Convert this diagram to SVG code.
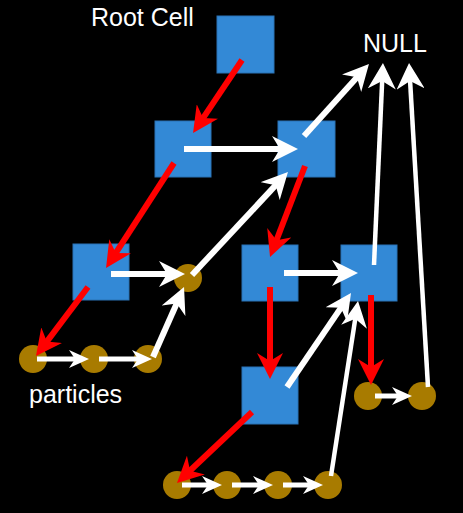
<svg xmlns="http://www.w3.org/2000/svg" width="463" height="513" viewBox="0 0 463 513">
<style>
.box{fill:#3389D6;stroke:#2b73b5;stroke-width:1}
.p{fill:#A87B00}
.t{fill:#fff;font-family:"Liberation Sans",Arial,sans-serif;font-size:25px}
.r{stroke:#f00;stroke-width:6;fill:none}
.w{stroke:#fff;stroke-width:6;fill:none}
.wn{stroke:#fff;stroke-width:4.5;fill:none}
.ws{stroke:#fff;stroke-width:5;fill:none}
</style>
<defs>
<marker id="hr" viewBox="0 0 26 26" refX="18" refY="13" markerWidth="26" markerHeight="26" markerUnits="userSpaceOnUse" orient="auto"><path d="M26,13 L0,0 L8,13 L0,26 Z" fill="#f00"/></marker>
<marker id="hw" viewBox="0 0 26 26" refX="18" refY="13" markerWidth="26" markerHeight="26" markerUnits="userSpaceOnUse" orient="auto"><path d="M26,13 L0,0 L8,13 L0,26 Z" fill="#fff"/></marker>
<marker id="hn" viewBox="0 0 26 28" refX="18" refY="14" markerWidth="26" markerHeight="28" markerUnits="userSpaceOnUse" orient="auto"><path d="M26,14 L0,0 L8,14 L0,28 Z" fill="#fff"/></marker>
<marker id="hs" viewBox="0 0 20 18" refX="13" refY="9" markerWidth="20" markerHeight="18" markerUnits="userSpaceOnUse" orient="auto"><path d="M20,9 L0,0 L6,9 L0,18 Z" fill="#fff"/></marker>
</defs>
<rect width="463" height="513" fill="#000"/>
<g id="labels">
<text class="t" x="91" y="26">Root Cell</text>
<text class="t" x="363" y="52">NULL</text>
<text class="t" x="29" y="403">particles</text>
</g>
<g id="root"><rect class="box" x="217" y="16" width="57" height="57"/></g>
<g id="cell1"><rect class="box" x="155" y="121" width="56" height="56"/></g>
<g id="cell2"><rect class="box" x="278" y="121" width="57" height="56"/></g>
<g id="cell3"><rect class="box" x="73" y="244" width="56" height="56"/></g>
<g id="cell4"><rect class="box" x="242" y="245" width="56" height="56"/></g>
<g id="cell5"><rect class="box" x="341" y="245" width="56" height="56"/></g>
<g id="cell6"><rect class="box" x="242" y="367" width="56" height="57"/></g>
<g id="pmid"><circle class="p" cx="188" cy="278" r="14"/></g>
<g id="p1"><circle class="p" cx="33" cy="359" r="14"/></g>
<g id="p2"><circle class="p" cx="94" cy="359" r="14"/></g>
<g id="p3"><circle class="p" cx="148" cy="359" r="14"/></g>
<g id="p4"><circle class="p" cx="368" cy="396" r="14"/></g>
<g id="p5"><circle class="p" cx="422" cy="396" r="14"/></g>
<g id="p6"><circle class="p" cx="177" cy="485" r="14"/></g>
<g id="p7"><circle class="p" cx="227" cy="485" r="14"/></g>
<g id="p8"><circle class="p" cx="278" cy="485" r="14"/></g>
<g id="p9"><circle class="p" cx="328" cy="485" r="14"/></g>
<g id="connectors">
<line class="r" x1="242" y1="60" x2="197.5" y2="126.4" marker-end="url(#hr)"/>
<line class="r" x1="174" y1="163" x2="110.4" y2="261.3" marker-end="url(#hr)"/>
<line class="r" x1="88" y1="287" x2="40.8" y2="349.6" marker-end="url(#hr)"/>
<line class="r" x1="305" y1="166" x2="272.9" y2="249.5" marker-end="url(#hr)"/>
<line class="r" x1="270" y1="287" x2="270" y2="371" marker-end="url(#hr)"/>
<line class="r" x1="371" y1="295" x2="371" y2="377" marker-end="url(#hr)"/>
<line class="r" x1="252" y1="412" x2="182.8" y2="477.5" marker-end="url(#hr)"/>
<line class="w" x1="184" y1="149" x2="290" y2="149" marker-end="url(#hw)"/>
<line class="w" x1="304" y1="136" x2="363.6" y2="69.9" marker-end="url(#hw)"/>
<line class="w" x1="111" y1="274" x2="177" y2="274" marker-end="url(#hw)"/>
<line class="w" x1="192" y1="275" x2="282.5" y2="177.9" marker-end="url(#hw)"/>
<line class="w" x1="153" y1="357" x2="180.8" y2="294.3" marker-end="url(#hw)"/>
<line class="w" x1="284" y1="273" x2="350" y2="273" marker-end="url(#hw)"/>
<line class="w" x1="287" y1="387" x2="346.5" y2="299.6" marker-end="url(#hw)"/>
<line class="wn" x1="331" y1="476" x2="356.8" y2="308.9" marker-end="url(#hw)"/>
<line class="wn" x1="374" y1="265" x2="382.6" y2="71" marker-end="url(#hn)"/>
<line class="wn" x1="428" y1="387" x2="409.5" y2="71" marker-end="url(#hn)"/>
<line class="ws" x1="37" y1="359" x2="82" y2="359" marker-end="url(#hs)"/>
<line class="ws" x1="99" y1="359" x2="145" y2="359" marker-end="url(#hs)"/>
<line class="ws" x1="375" y1="396" x2="405" y2="396" marker-end="url(#hs)"/>
<line class="ws" x1="182" y1="485" x2="215" y2="485" marker-end="url(#hs)"/>
<line class="ws" x1="232" y1="485" x2="266" y2="485" marker-end="url(#hs)"/>
<line class="ws" x1="283" y1="485" x2="316" y2="485" marker-end="url(#hs)"/>
</g>
</svg>
